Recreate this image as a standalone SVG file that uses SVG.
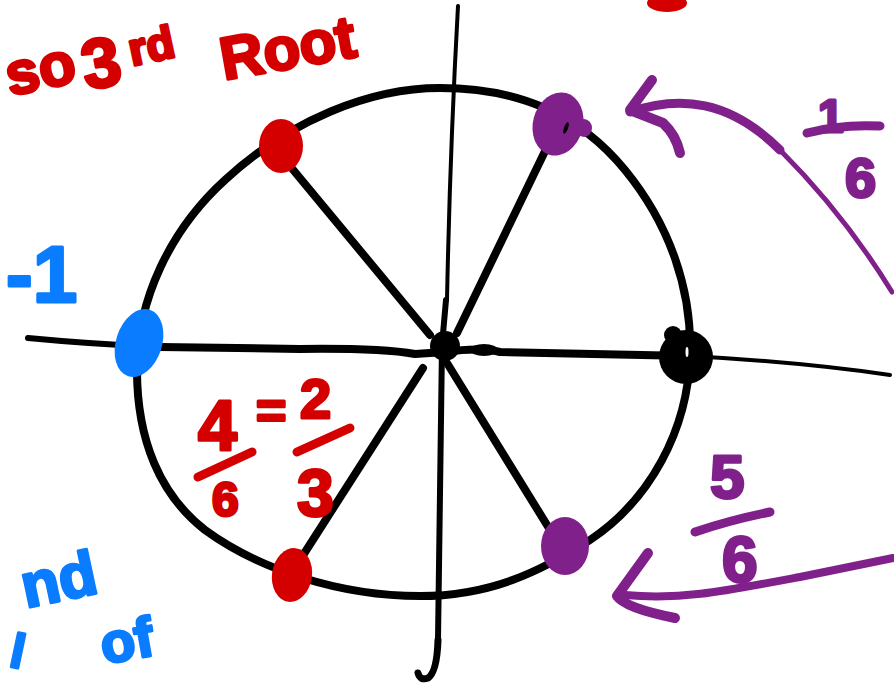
<svg xmlns="http://www.w3.org/2000/svg" width="894" height="689" viewBox="0 0 894 689">
<style>
.k{fill:none;stroke:#000;stroke-linecap:round;stroke-linejoin:round}
.p{fill:none;stroke:#80208a;stroke-linecap:round;stroke-linejoin:round}
.r{fill:none;stroke:#d40000;stroke-linecap:round;stroke-linejoin:round}
.tr{fill:#d40000;stroke:#d40000;stroke-width:3;stroke-linejoin:round;font-family:"Liberation Sans",Arial,sans-serif;font-weight:bold}
.tp{fill:#80208a;stroke:#80208a;stroke-width:3;stroke-linejoin:round;font-family:"Liberation Sans",Arial,sans-serif;font-weight:bold}
.tb{fill:#0a7cff;stroke:#0a7cff;stroke-width:3;stroke-linejoin:round;font-family:"Liberation Sans",Arial,sans-serif;font-weight:bold}
</style>
<rect width="894" height="689" fill="#fff"/>
<g id="axes">
<path class="k" stroke-width="6" d="M28,338 Q90,344 160,347"/>
<path class="k" stroke-width="8" d="M160,347 L300,349 Q380,348 415,354 L445,352 Q480,347 500,352 L690,356"/>
<path class="k" stroke-width="4" d="M690,356 Q800,362 890,375"/>
<path class="k" stroke-width="4" d="M458,6 Q450,150 447,300"/>
<path class="k" stroke-width="6" d="M446,300 L442,345 Q440,500 438,640"/>
<path class="k" stroke-width="7" d="M438,640 Q437,672 428,678 Q420,681 418,673"/>
</g>
<g id="circle">
<path class="k" stroke-width="8" d="M440,88 C520,88 580,115 625,170 C670,225 692,290 690,355 C688,430 650,500 590,540 C540,572 490,596 420,596 C340,596 260,570 205,530 C160,495 137,440 137,370 C137,300 170,230 225,180 C290,120 370,88 440,88 Z"/>
</g>
<g id="connectors">
<path class="k" stroke-width="8" d="M285,160 L430,335"/>
<path class="k" stroke-width="8" d="M548,145 L457,333"/>
<path class="k" stroke-width="8" d="M423,368 L300,560"/>
<path class="k" stroke-width="8" d="M447,363 L555,538"/>
<circle cx="445" cy="346" r="15" fill="#000"/>
<ellipse cx="484" cy="350" rx="14" ry="6" fill="#000"/>
</g>
<g id="node-top-left">
<ellipse cx="281" cy="146" rx="22" ry="27" fill="#d40000"/>
</g>
<g id="node-top-right">
<ellipse cx="558" cy="124" rx="25" ry="32" transform="rotate(15 558 124)" fill="#80208a"/>
<ellipse cx="584" cy="128" rx="8" ry="9" fill="#80208a"/>
<ellipse cx="566" cy="128" rx="2" ry="6" transform="rotate(20 566 128)" fill="#000"/>
</g>
<g id="node-left">
<ellipse cx="139" cy="343" rx="23" ry="35" transform="rotate(18 139 343)" fill="#0a7cff"/>
</g>
<g id="node-right">
<circle cx="686" cy="357" r="27" fill="#000"/>
<circle cx="673" cy="335" r="9" fill="#000"/>
<ellipse cx="687" cy="352" rx="1.5" ry="5" fill="#fff"/>
</g>
<g id="node-bottom-left">
<ellipse cx="292" cy="575" rx="20" ry="27" transform="rotate(8 292 575)" fill="#d40000"/>
</g>
<g id="node-bottom-right">
<ellipse cx="565" cy="546" rx="24" ry="29" fill="#80208a"/>
</g>
<g id="red-text">
<text class="tr" x="10" y="96" font-size="60" transform="rotate(-12 10 96)">so</text>
<text class="tr" x="86" y="90" font-size="70" transform="rotate(-10 86 90)">3</text>
<text class="tr" x="132" y="66" font-size="46" transform="rotate(-12 132 66)">rd</text>
<text class="tr" x="224" y="80" font-size="60" transform="rotate(-10 224 80)">Root</text>
<ellipse cx="667" cy="3" rx="20" ry="9" fill="#d40000"/>
<text class="tr" x="198" y="450" font-size="70">4</text>
<path class="r" stroke-width="9" d="M198,477 L252,452"/>
<text class="tr" x="212" y="516" font-size="48">6</text>
<text class="tr" x="256" y="428" font-size="52">=</text>
<text class="tr" x="300" y="418" font-size="56">2</text>
<path class="r" stroke-width="9" d="M297,452 L350,428"/>
<text class="tr" x="297" y="516" font-size="66">3</text>
</g>
<g id="blue-text">
<text class="tb" x="6" y="302" font-size="80">-1</text>
<text class="tb" x="26" y="608" font-size="62" transform="rotate(-12 26 608)">nd</text>
<text class="tb" x="8" y="666" font-size="48" transform="rotate(12 8 666)">l</text>
<text class="tb" x="104" y="664" font-size="56" transform="rotate(-10 104 664)">of</text>
</g>
<g id="purple-arrows">
<path class="p" stroke-width="9" d="M630,112 C680,95 730,100 780,150"/>
<path class="p" stroke-width="5" d="M780,150 C820,190 860,240 892,292"/>
<path class="p" stroke-width="10" d="M652,80 L630,110 L663,123 Q676,135 680,153"/>
<path class="p" stroke-width="8" d="M625,595 C680,600 720,592 800,577 L893,558"/>
<path class="p" stroke-width="10" d="M648,553 L617,596 Q625,608 675,618"/>
<text class="tp" x="818" y="132" font-size="46">1</text>
<path class="p" stroke-width="9" d="M807,133 Q840,124 880,126"/>
<text class="tp" x="845" y="197" font-size="56">6</text>
<text class="tp" x="710" y="498" font-size="62">5</text>
<path class="p" stroke-width="9" d="M695,532 Q730,520 770,512"/>
<text class="tp" x="722" y="582" font-size="64">6</text>
</g>
</svg>
